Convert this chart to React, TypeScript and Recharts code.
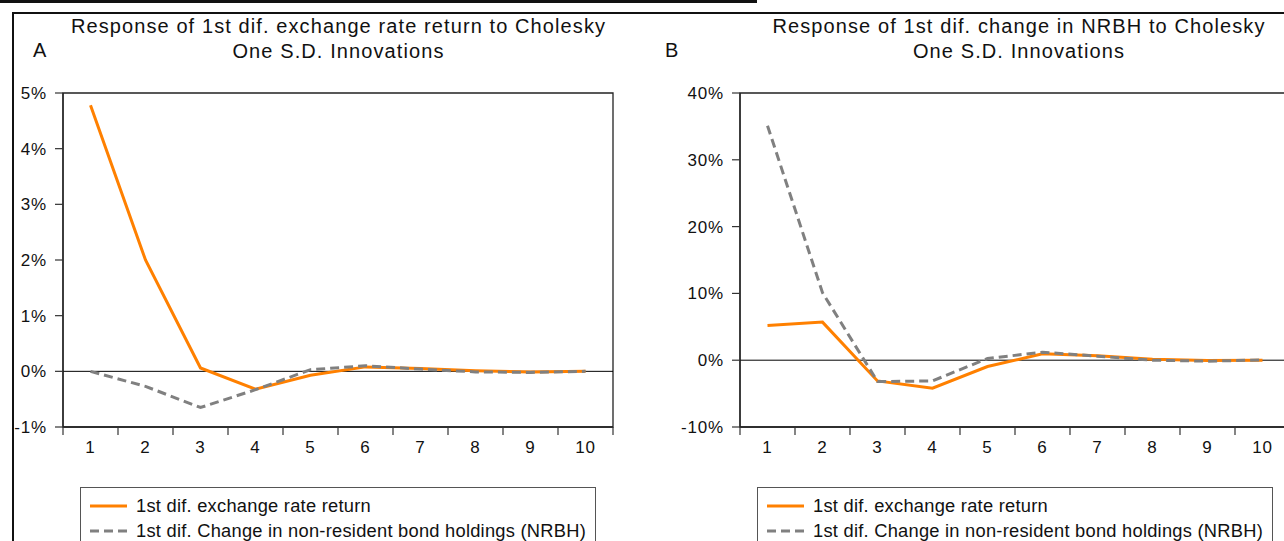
import React from "react";
import {
  LineChart, Line, XAxis, YAxis, ReferenceLine, ReferenceArea, Legend,
} from "recharts";

// impulse horizon (periods)
const steps = [1, 2, 3, 4, 5, 6, 7, 8, 9, 10];

// panel A: response of 1st dif. exchange rate return (%)
const fxReturnA = [4.78, 2.0, 0.06, -0.32, -0.07, 0.08, 0.05, 0.01, -0.01, 0.0];
const nrbhA = [0.0, -0.27, -0.65, -0.33, 0.03, 0.1, 0.04, -0.01, -0.02, 0.0];

// panel B: response of 1st dif. change in NRBH (%)
const fxReturnB = [5.2, 5.7, -3.1, -4.2, -0.95, 0.95, 0.65, 0.15, -0.05, 0.0];
const nrbhB = [35.1, 10.1, -3.2, -3.1, 0.25, 1.2, 0.6, 0.0, -0.15, 0.05];

const ticksA = [-1, 0, 1, 2, 3, 4, 5];
const ticksB = [-10, 0, 10, 20, 30, 40];

const seriesNames = [
  "1st dif. exchange rate return",
  "1st dif. Change in non-resident bond holdings (NRBH)",
];

const ORANGE = "#ff8000";
const GRAY = "#808080";
const INK = "#111";
const FONT = "'Liberation Sans', Arial, sans-serif";
const TICK = 8;
const GAP = 6;

// ticks at half steps draw the boundary marks, whole steps get the label
const xTicks = [steps[0] - 0.5, ...steps.flatMap((s) => [s, s + 0.5])];

const StepTick = (props: any) => {
  const { x, y, payload } = props;
  const v = payload.value as number;
  if (Number.isInteger(v)) {
    return (
      <text x={x} y={y} dy="0.71em" textAnchor="middle" fill={INK}
        fontSize={17} letterSpacing={0.8} fontFamily={FONT}>
        {v}
      </text>
    );
  }
  return <line x1={x} x2={x} y1={y - TICK - GAP} y2={y - GAP} stroke="#333" strokeWidth={1.2} />;
};

const LegendBox = () => (
  <div style={{
    border: "1.5px solid #555", background: "#fff", padding: "5px 0 6px 0",
    fontFamily: FONT, fontSize: 18.3, letterSpacing: 0.25, color: INK, boxSizing: "border-box",
    textAlign: "left",
  }}>
    {seriesNames.map((name, i) => (
      <div key={name} style={{ display: "flex", alignItems: "center", height: 25, whiteSpace: "nowrap" }}>
        <svg width={42} height={6} style={{ marginLeft: 7, marginRight: 6, flexShrink: 0 }}>
          <line x1={2} x2={39} y1={3} y2={3} stroke={i === 0 ? ORANGE : GRAY}
            strokeWidth={3} strokeDasharray={i === 0 ? undefined : "9 5"} />
        </svg>
        <span>{name}</span>
      </div>
    ))}
  </div>
);

interface PanelProps {
  fx: number[];
  nrbh: number[];
  ticks: number[];
  width: number;
  axisWidth: number;
  rightPad: number;
  legendLeft: number;
}

function Panel({ fx, nrbh, ticks, width, axisWidth, rightPad, legendLeft }: PanelProps) {
  const data = steps.map((s, i) => ({ step: s, fx: fx[i], nrbh: nrbh[i] }));
  const lo = ticks[0];
  const hi = ticks[ticks.length - 1];
  return (
    <LineChart width={width} height={541} data={data}
      margin={{ top: 93, right: rightPad, bottom: 84, left: 0 }}>
      <ReferenceArea x1={xTicks[0]} x2={xTicks[xTicks.length - 1]} y1={lo} y2={hi}
        fill="none" stroke="#222" strokeWidth={1.3} />
      <XAxis dataKey="step" type="number" domain={[xTicks[0], xTicks[xTicks.length - 1]]}
        ticks={xTicks} interval={0} allowDecimals height={30}
        tickSize={TICK} tickMargin={GAP} tickLine={false}
        axisLine={{ stroke: "#222", strokeWidth: 1.3 }} tick={<StepTick />} />
      <YAxis type="number" domain={[lo, hi]} ticks={ticks} interval={0} width={axisWidth}
        tickSize={TICK} tickMargin={8} tickFormatter={(v) => `${v}%`}
        axisLine={{ stroke: "#222", strokeWidth: 1.3 }} tickLine={{ stroke: "#333", strokeWidth: 1.2 }}
        tick={{ fontSize: 17, fill: INK, fontFamily: FONT, letterSpacing: 0.8 }} />
      <ReferenceLine y={0} stroke="#000" strokeWidth={1} />
      <Line type="linear" dataKey="fx" stroke={ORANGE} strokeWidth={3} dot={false}
        isAnimationActive={false} />
      <Line type="linear" dataKey="nrbh" stroke={GRAY} strokeWidth={3} dot={false}
        strokeDasharray="9 5" isAnimationActive={false} />
      <Legend content={<LegendBox />} layout="horizontal" verticalAlign="middle" align="center"
        wrapperStyle={{ left: legendLeft, top: 487, width: 516, bottom: "auto" }} />
    </LineChart>
  );
}

const titleStyle: React.CSSProperties = {
  position: "absolute", top: 13.6, textAlign: "center", fontSize: 20, lineHeight: "25px",
  letterSpacing: 1.1, color: INK, whiteSpace: "nowrap",
};
const letterStyle: React.CSSProperties = {
  position: "absolute", top: 37.6, fontSize: 20, lineHeight: "25px", color: INK,
};

export default function App() {
  return (
    <div style={{
      position: "fixed", left: 0, top: 0, width: 1284, height: 541, overflow: "hidden",
      background: "#fff", fontFamily: FONT,
    }}>
      <div style={{ position: "absolute", left: 0, top: 0, width: 757, height: 3, background: INK }} />
      <div style={{
        position: "absolute", left: 12, top: 12, width: 1300, height: 560,
        borderTop: `2px solid ${INK}`, borderLeft: `2px solid ${INK}`,
      }} />

      <div style={{ position: "absolute", left: 0, top: 0 }}>
        <Panel fx={fxReturnA} nrbh={nrbhA} ticks={ticksA} width={640} axisWidth={63}
          rightPad={27} legendLeft={80} />
      </div>
      <div style={{ position: "absolute", left: 660, top: 0 }}>
        <Panel fx={fxReturnB} nrbh={nrbhB} ticks={ticksB} width={660} axisWidth={80}
          rightPad={30} legendLeft={97} />
      </div>

      <div style={{ ...letterStyle, left: 33 }}>A</div>
      <div style={{ ...titleStyle, left: 63, width: 551 }}>
        Response of 1st dif. exchange rate return to Cholesky<br />One S.D. Innovations
      </div>
      <div style={{ ...letterStyle, left: 665 }}>B</div>
      <div style={{ ...titleStyle, left: 740, width: 558 }}>
        Response of 1st dif. change in NRBH to Cholesky<br />One S.D. Innovations
      </div>
    </div>
  );
}
